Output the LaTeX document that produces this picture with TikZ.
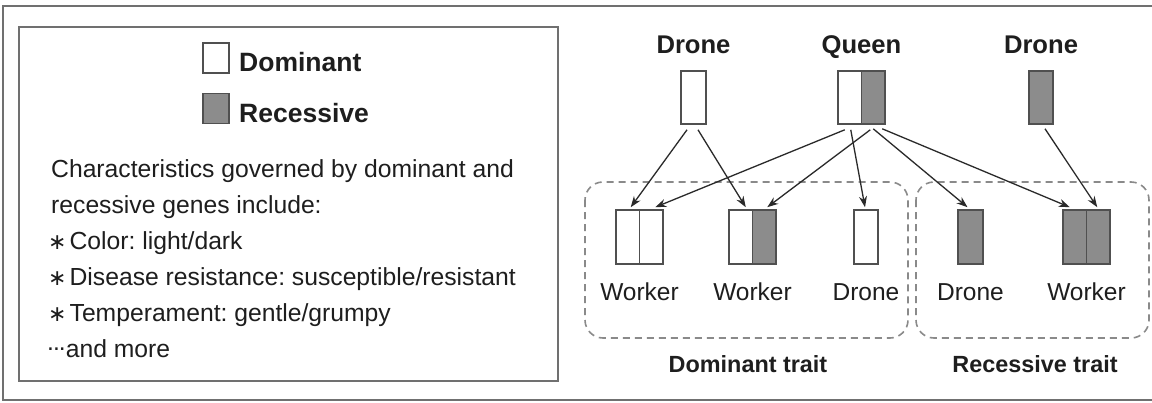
\documentclass[tikz,border=0pt]{standalone}
\usepackage{fontspec}
\setmainfont{Liberation Sans}
\newfontfamily\djv{DejaVu Sans}
\usetikzlibrary{arrows.meta}
\definecolor{txt}{HTML}{1E1E1E}
\definecolor{boxc}{HTML}{505050}
\definecolor{recc}{HTML}{8C8C8C}
\definecolor{dashc}{HTML}{8A8A8A}
\definecolor{framec}{HTML}{707070}
\definecolor{arrc}{HTML}{2A2A2A}
\frenchspacing
\begin{document}
\begin{tikzpicture}[x=1pt,y=-1pt,
  half/.style={draw=boxc, line width=1.6pt, minimum width=23.5pt, minimum height=54pt, inner sep=0pt},
  dom/.style={half, fill=white},
  rec/.style={half, fill=recc},
  arr/.style={draw=arrc, line width=1.3pt, -{Stealth[length=11pt,width=8pt]}},
  grp/.style={draw=dashc, line width=1.6pt, dash pattern=on 7pt off 5pt, rounded corners=18pt},
  body/.style={anchor=base west, inner sep=0pt, text=txt, font=\fontsize{24.7}{30}\selectfont},
  legend/.style={anchor=base west, inner sep=0pt, text=txt, font=\fontsize{26.5}{30}\selectfont\bfseries},
  head/.style={anchor=base, inner sep=0pt, text=txt, font=\fontsize{25.6}{30}\selectfont\bfseries},
  lab/.style={anchor=base, inner sep=0pt, text=txt, font=\fontsize{24.5}{30}\selectfont},
  trait/.style={anchor=base, inner sep=0pt, text=txt, font=\fontsize{23.4}{30}\selectfont\bfseries},
  sq/.style={draw=boxc, line width=1.8pt, minimum width=26pt, minimum height=30pt, inner sep=0pt}
]
\useasboundingbox (0,0) rectangle (1152,402);
\fill[white] (0,0) rectangle (1152,402);
% outer frame
\draw[framec, line width=2pt] (1152,6) -- (3,6) -- (3,400) -- (1152,400);
% left panel
\node[draw=framec, line width=2.4pt, minimum width=539pt, minimum height=354pt, inner sep=0pt] (panel) at (288.5,204) {};
\node[sq, fill=white] (sqd) at (216,58) {};
\node[sq, fill=recc] (sqr) at (216,108.5) {};
\node[legend] (ld) at (239,71) {Dominant};
\node[legend] (lr) at (239,122) {Recessive};
\newcommand{\bul}{{\djv\fontsize{22}{26}\selectfont ∗}\kern3pt}
\node[body] (t1) at (51,177) {Characteristics governed by dominant and};
\node[body] (t2) at (51,213) {recessive genes include:};
\node[body] (t3) at (48,249) {\bul Color: light/dark};
\node[body] (t4) at (48,285) {\bul Disease resistance: susceptible/resistant};
\node[body] (t5) at (48,321) {\bul Temperament: gentle/grumpy};
\node[body] (t6) at (48,357) {\raisebox{0.25em}{\kern-1pt.\kern-1pt.\kern-1pt.}and more};
% groups
\draw[grp] (585,182) rectangle (908,338);
\draw[grp] (916,182) rectangle (1149,338);
% parents
\node[head] (hd1) at (693.5,53) {Drone};
\node[head] (hq) at (861.5,53) {Queen};
\node[head] (hd2) at (1041,53) {Drone};
\node[dom, minimum width=25pt, minimum height=53pt] (d1) at (693.5,97.5) {};
\node[dom, minimum height=53pt] (qL) at (849.75,97.5) {};
\node[rec, minimum height=53pt] (qR) at (873.25,97.5) {};
\node[rec, minimum width=24pt, minimum height=53pt] (d2) at (1041,97.5) {};
% offspring
\node[dom] (w1L) at (627.75,237) {};
\node[dom] (w1R) at (651.25,237) {};
\node[dom] (w2L) at (740.75,237) {};
\node[rec] (w2R) at (764.25,237) {};
\node[dom, minimum width=24pt] (dd) at (866,237) {};
\node[rec, minimum width=25pt] (dr) at (970.5,237) {};
\node[rec] (w3L) at (1074.75,237) {};
\node[rec] (w3R) at (1098.25,237) {};
\node[lab] (lw1) at (639.5,300) {Worker};
\node[lab] (lw2) at (752.5,300) {Worker};
\node[lab] (ldd) at (866,300) {Drone};
\node[lab] (ldr) at (970.5,300) {Drone};
\node[lab] (lw3) at (1086.5,300) {Worker};
\node[trait] (tdom) at (748,372) {Dominant trait};
\node[trait] (trec) at (1035,372) {Recessive trait};
% arrows
\draw[arr] ([xshift=-6.5pt,yshift=-5pt]d1.south) -- ([xshift=3pt,yshift=2pt]w1L.north);
\draw[arr] ([xshift=4.5pt,yshift=-5pt]d1.south) -- ([xshift=5pt,yshift=2pt]w2L.north);
\draw[arr] ([xshift=-5pt,yshift=-5pt]qL.south) -- ([xshift=4pt,yshift=2pt]w1R.north);
\draw[arr] ([xshift=1pt,yshift=-5pt]qL.south) -- ([xshift=-1pt,yshift=2pt]dd.north);
\draw[arr] ([xshift=-3pt,yshift=-5pt]qR.south) -- ([xshift=3pt,yshift=2pt]w2R.north);
\draw[arr] ([xshift=0pt,yshift=-4pt]qR.south) -- ([xshift=-3pt,yshift=2pt]dr.north);
\draw[arr] ([xshift=9pt,yshift=-4pt]qR.south) -- ([xshift=-5pt,yshift=2pt]w3L.north);
\draw[arr] ([xshift=4pt,yshift=-4pt]d2.south) -- ([xshift=-1pt,yshift=2pt]w3R.north);
\end{tikzpicture}
\end{document}
